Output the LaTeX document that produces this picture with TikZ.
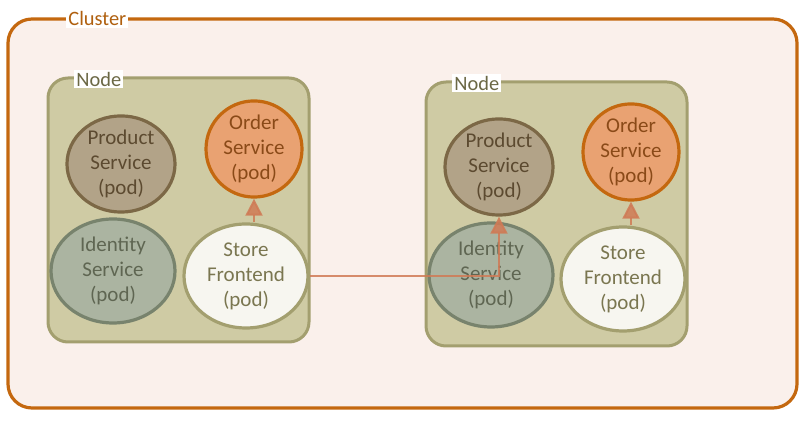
\documentclass[tikz,border=0pt]{standalone}
\usepackage{fontspec}
\setmainfont{Carlito}
\usetikzlibrary{arrows.meta,shapes.geometric}

\definecolor{clusterline}{HTML}{C4680F}
\definecolor{clusterfill}{HTML}{FAF0EB}
\definecolor{clustertext}{HTML}{B0600F}
\definecolor{nodeline}{HTML}{A39F6F}
\definecolor{nodefill}{HTML}{CFCBA4}
\definecolor{nodetext}{HTML}{6B6845}
\definecolor{prodfill}{HTML}{B2A388}
\definecolor{prodline}{HTML}{7C6846}
\definecolor{prodtext}{HTML}{5C4A30}
\definecolor{ordfill}{HTML}{E9A272}
\definecolor{ordline}{HTML}{C4680F}
\definecolor{ordtext}{HTML}{8A4A18}
\definecolor{idfill}{HTML}{ABB4A1}
\definecolor{idline}{HTML}{78836D}
\definecolor{idtext}{HTML}{5F6652}
\definecolor{storefill}{HTML}{F7F6F0}
\definecolor{storeline}{HTML}{A39F6F}
\definecolor{storetext}{HTML}{7A7650}
\definecolor{callline}{HTML}{D07A55}

\tikzset{
  pod/.style={ellipse, line width=1.6pt, align=center, inner sep=0pt,
    font=\fontsize{10.5}{12.5}\selectfont},
  prodpod/.style={pod, draw=prodline, fill=prodfill, text=prodtext,
    minimum width=54pt, minimum height=45pt},
  ordpod/.style={pod, draw=ordline, fill=ordfill, text=ordtext,
    minimum width=48pt, minimum height=46pt},
  idpod/.style={pod, draw=idline, fill=idfill, text=idtext,
    minimum width=62pt, minimum height=52pt},
  storepod/.style={pod, draw=storeline, fill=storefill, text=storetext,
    minimum width=62pt, minimum height=52pt},
  nodebox/.style={draw=nodeline, fill=nodefill, line width=1.5pt, rounded corners=10pt},
  boxlabel/.style={fill=white, inner sep=1pt, font=\fontsize{10.2}{12}\selectfont},
  call/.style={draw=callline, opacity=0.85, line width=1pt,
    -{Triangle[length=8.5pt, width=8.5pt]}}
}

\begin{document}
\begin{tikzpicture}[x=0.5pt, y=-0.5pt]
  \useasboundingbox (0,0) rectangle (808,421);

  % Cluster
  \draw[clusterline, fill=clusterfill, line width=1.6pt, rounded corners=12pt]
    (8,19) rectangle (797,408);
  \node[boxlabel, text=clustertext, anchor=west] (clusterlbl) at (66,19) {Cluster};

  % Nodes
  \draw[nodebox] (48,78) rectangle (309,342);
  \node[boxlabel, text=nodetext, anchor=west] (nodelblA) at (74,79) {Node};
  \draw[nodebox] (426,82) rectangle (687,346);
  \node[boxlabel, text=nodetext, anchor=west] (nodelblB) at (452,83) {Node};

  % Pods, primeiro node
  \node[prodpod] (prodA) at (121,164) {Product\\Service\\(pod)};
  \node[ordpod] (ordA) at (254,149) {Order\\Service\\(pod)};
  \node[idpod] (idA) at (113,271) {Identity\\Service\\(pod)};
  \node[storepod] (storeA) at (246,276) {Store\\Frontend\\(pod)};

  % Pods, segundo node
  \node[prodpod] (prodB) at (499,167) {Product\\Service\\(pod)};
  \node[ordpod] (ordB) at (631,152) {Order\\Service\\(pod)};
  \node[idpod] (idB) at (491,275) {Identity\\Service\\(pod)};
  \node[storepod] (storeB) at (623,279) {Store\\Frontend\\(pod)};

  % Chamadas
  \draw[call] (storeA.north -| ordA.south) -- (ordA.south);
  \draw[call] (storeB.north -| ordB.south) -- (ordB.south);
  \draw[call] (storeA.east) -- (storeA.east -| prodB.south) -- (prodB.south);
\end{tikzpicture}
\end{document}
